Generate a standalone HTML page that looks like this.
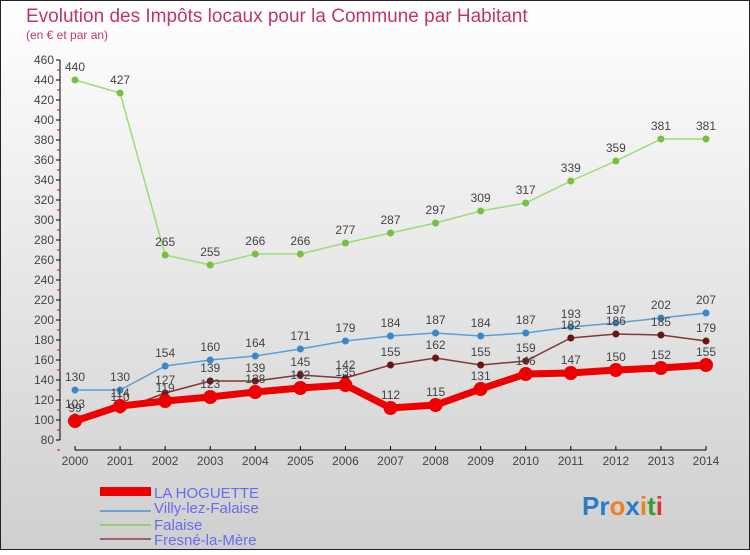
<!DOCTYPE html>
<html><head><meta charset="utf-8"><style>
body{margin:0;width:750px;height:550px;overflow:hidden;font-family:"Liberation Sans",sans-serif}
</style></head><body>
<svg id="c" width="750" height="550" xmlns="http://www.w3.org/2000/svg">
<defs><linearGradient id="bg" x1="0" y1="0" x2="0" y2="1"><stop offset="0" stop-color="#ffffff"/><stop offset="1" stop-color="#cfcfcf"/></linearGradient></defs>
<rect x="0.5" y="0.5" width="749" height="549" fill="url(#bg)" stroke="#222"/>
<text x="26" y="22" font-size="19" fill="#c0385a">Evolution des Impôts locaux pour la Commune par Habitant</text>
<text x="26" y="39" font-size="12" fill="#c0385a">(en € et par an)</text>
<g id="axes"></g><g id="series"></g>
<g>
<rect x="100" y="487" width="51" height="9" fill="#e00"/>
<line x1="100" y1="511" x2="151" y2="511" stroke="#6aa3cc" stroke-width="2"/>
<line x1="100" y1="525" x2="151" y2="525" stroke="#90d070" stroke-width="2"/>
<line x1="100" y1="539" x2="151" y2="539" stroke="#a06060" stroke-width="2"/>
<g font-size="15" fill="#6a6aee">
<text x="154" y="498">LA HOGUETTE</text>
<text x="154" y="513">Villy-lez-Falaise</text>
<text x="154" y="530">Falaise</text>
<text x="154" y="545">Fresné-la-Mère</text>
</g></g>
<text x="582" y="515" font-size="26" font-weight="bold"><tspan fill="#2a7cc8">Pr</tspan><tspan fill="#f08020">o</tspan><tspan fill="#2a7cc8">x</tspan><tspan fill="#f08020">i</tspan><tspan fill="#3a9a3a">t</tspan><tspan fill="#e03030">i</tspan></text>
</svg>
<script>
const years=["2000","2001","2002","2003","2004","2005","2006","2007","2008","2009","2010","2011","2012","2013","2014"];
const hoguette=[99,114,119,123,128,132,135,112,115,131,146,147,150,152,155];
const villy=[130,130,154,160,164,171,179,184,187,184,187,193,197,202,207];
const falaise=[440,427,265,255,266,266,277,287,297,309,317,339,359,381,381];
const fresne=[103,110,127,139,139,145,142,155,162,155,159,182,186,185,179];
const yTicks=[80,100,120,140,160,180,200,220,240,260,280,300,320,340,360,380,400,420,440,460];
const NS="http://www.w3.org/2000/svg";
const X=i=>75+i*(706-75)/14, Y=v=>520-v;
function mk(t,a,p){const e=document.createElementNS(NS,t);for(const k in a)e.setAttribute(k,a[k]);p.appendChild(e);return e;}
const ax=document.getElementById('axes');
mk('line',{x1:60,y1:Y(460),x2:60,y2:Y(80),stroke:'#000'},ax);
mk('line',{x1:75,y1:450,x2:706,y2:450,stroke:'#000'},ax);
yTicks.forEach(v=>{
  mk('line',{x1:56,y1:Y(v),x2:60,y2:Y(v),stroke:'#000'},ax);
  mk('line',{x1:57,y1:Y(v)+10,x2:60,y2:Y(v)+10,stroke:'#e00'},ax);
  const t=mk('text',{x:54,y:Y(v)+4,'font-size':12,'text-anchor':'end',fill:'#444'},ax);
  
  
  t.textContent=v;
});
years.forEach((y,i)=>{
  mk('line',{x1:X(i),y1:446,x2:X(i),y2:450,stroke:'#000'},ax);
  const t=mk('text',{x:X(i),y:465,'font-size':12,'text-anchor':'middle',fill:'#444'},ax);
  
  
  t.textContent=y;
});
const sg=document.getElementById('series');
function series(name,vals,col,w,r,dot){
  const g=mk('g',{},sg);
  
  
  mk('polyline',{points:vals.map((v,i)=>X(i)+','+Y(v)).join(' '),fill:'none',stroke:col,'stroke-width':w},g);
  vals.forEach((v,i)=>{
    const c=mk('circle',{cx:X(i),cy:Y(v),r:r,fill:dot},g);
    
    
    const t=mk('text',{x:X(i),y:Y(v)-9,'font-size':12,'text-anchor':'middle',fill:'#444'},g);
    
    
    t.textContent=v;
  });
}
series('falaise',falaise,'#99dd77',1.5,3.5,'#77c040');
series('villy',villy,'#5a9fd4',1.5,3.5,'#3a88c8');
series('fresne',fresne,'#803838',1.5,3.5,'#6a1515');
series('la-hoguette',hoguette,'#ee0000',7,7,'#ee0000');
</script>
</body></html>
